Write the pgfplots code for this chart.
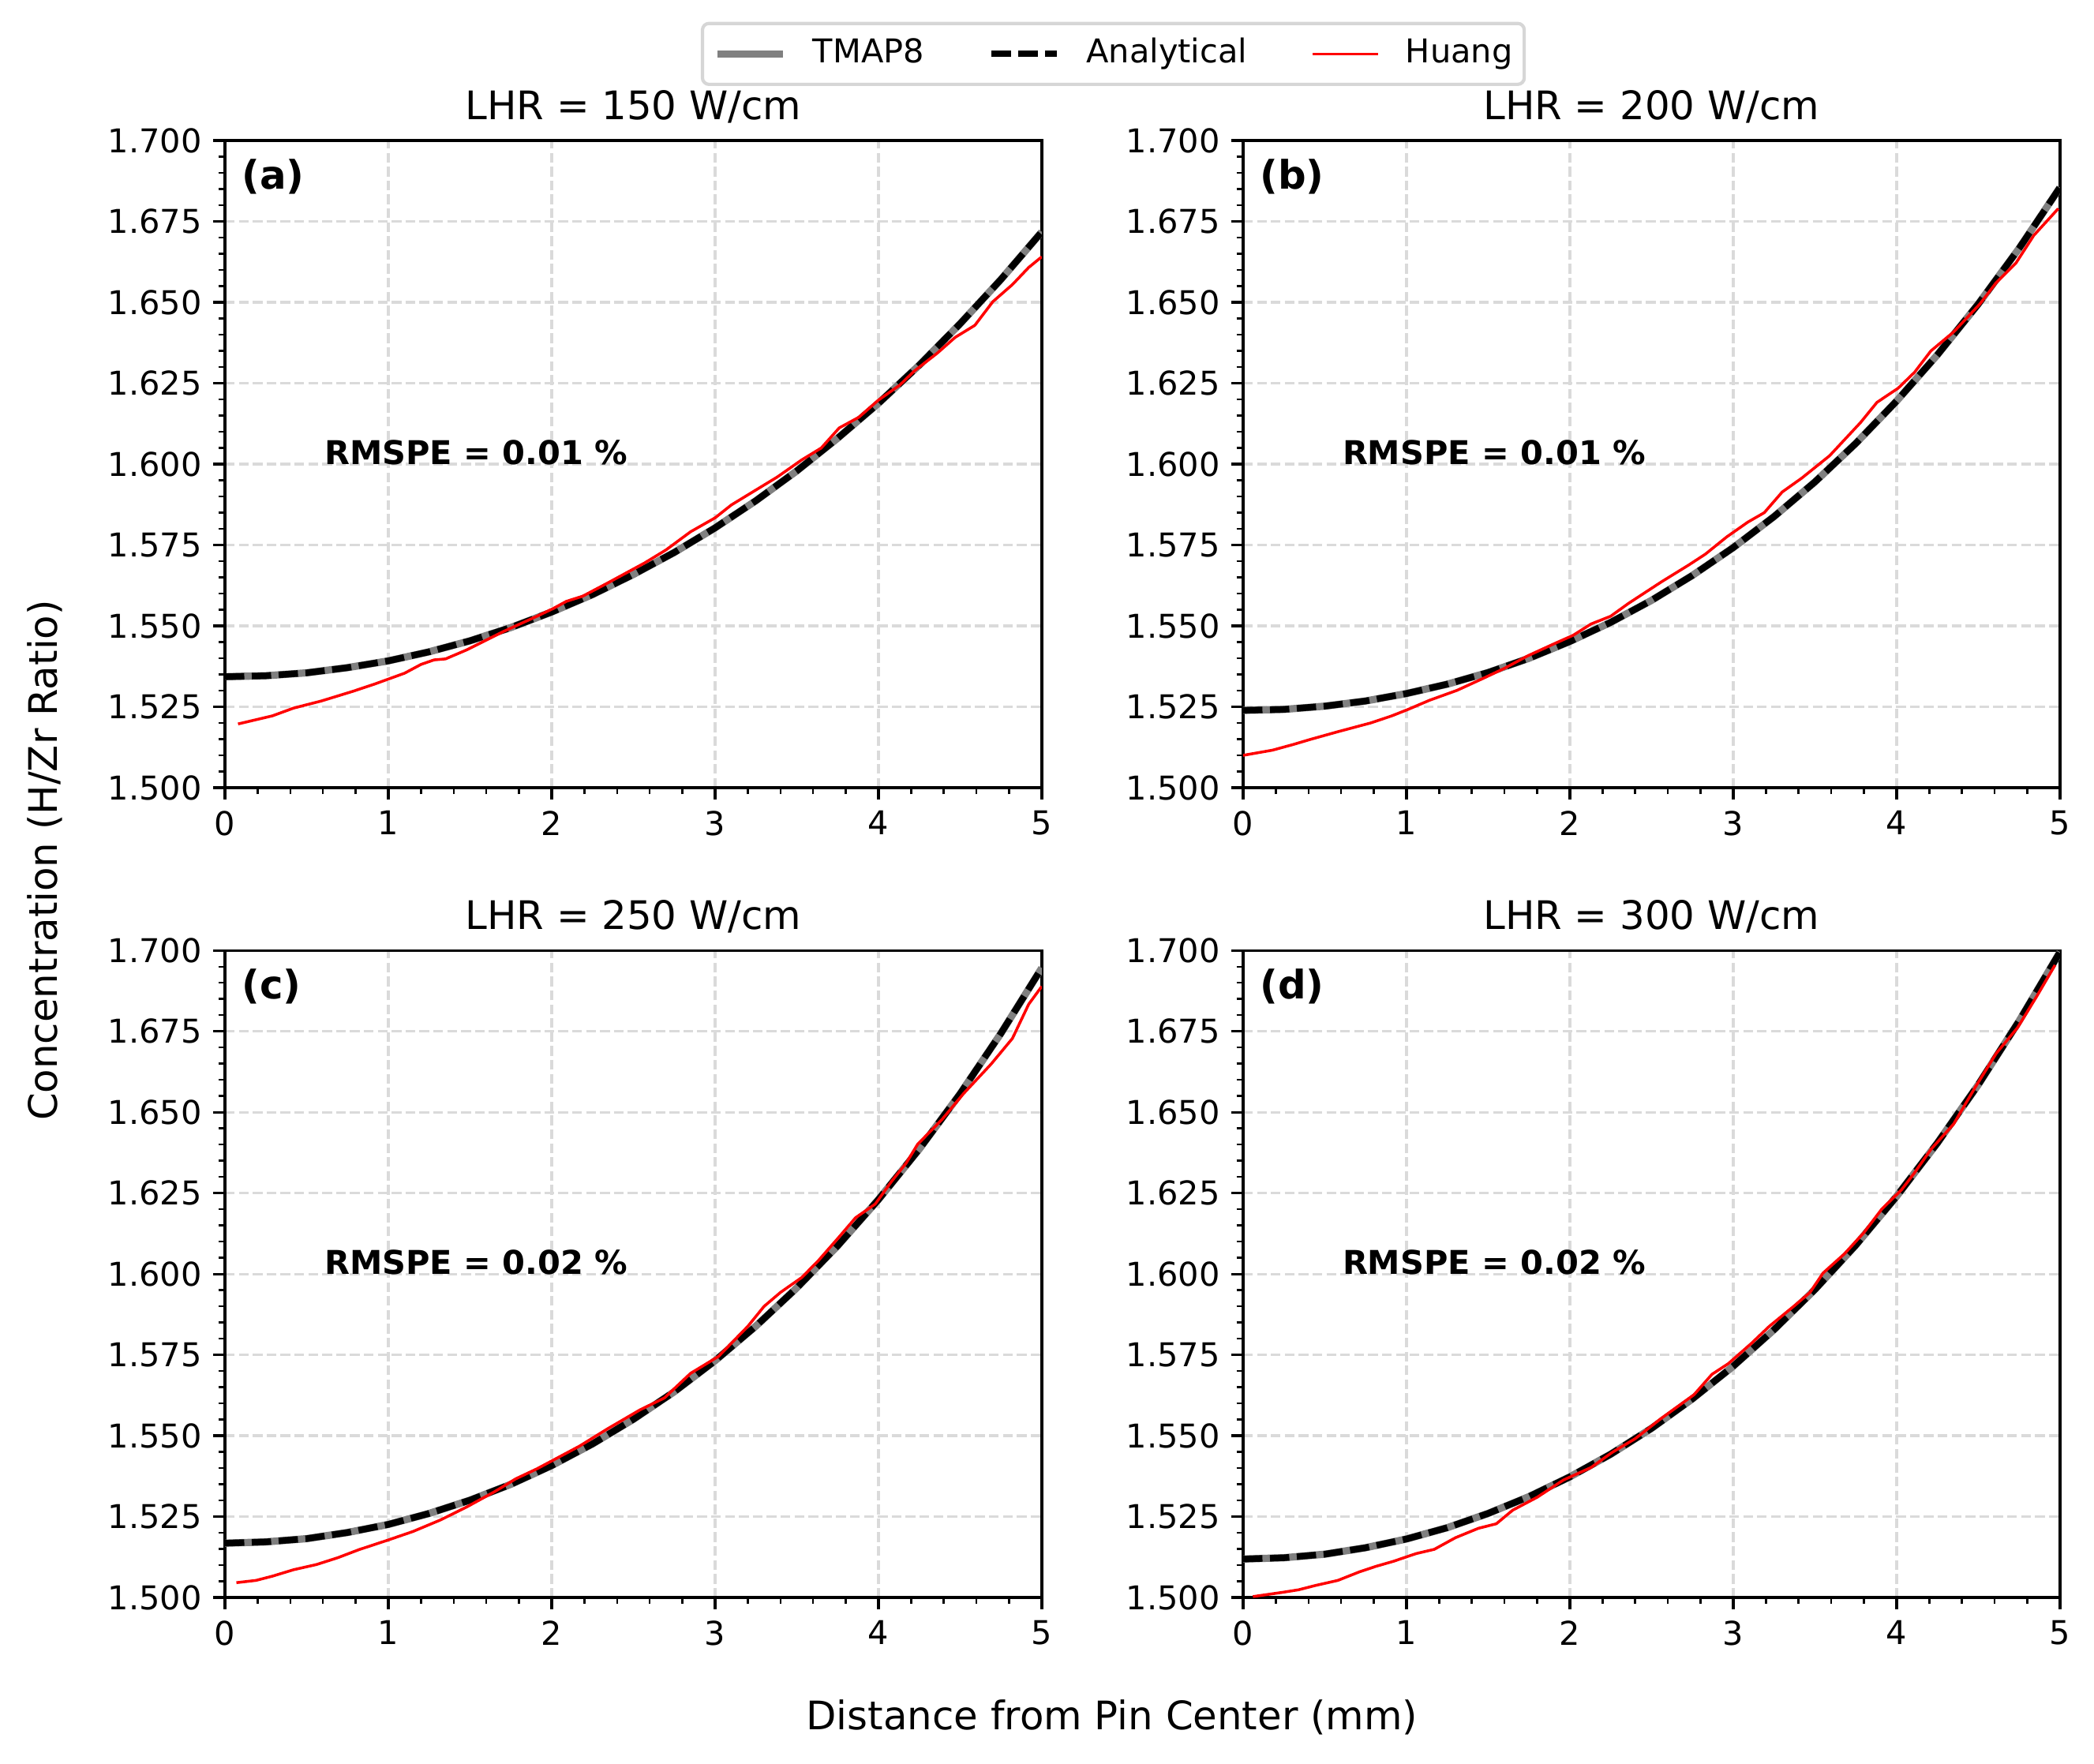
\documentclass[border=0pt]{standalone}
\usepackage{fontspec}
\setmainfont{DejaVu Sans}
\usepackage{pgfplots}
\usepackage{pgfplotstable}
\pgfplotsset{compat=1.18}

\definecolor{gridgray}{RGB}{218,218,218}
\definecolor{legendedge}{RGB}{214,214,214}

% ---------------- analytical / TMAP8 profiles ----------------
\pgfplotstableread{
x y
0.00 1.5343
0.25 1.5346
0.50 1.5355
0.75 1.5371
1.00 1.5392
1.25 1.5420
1.50 1.5454
1.75 1.5495
2.00 1.5543
2.25 1.5597
2.50 1.5659
2.75 1.5727
3.00 1.5803
3.25 1.5887
3.50 1.5979
3.75 1.6080
4.00 1.6188
4.25 1.6306
4.50 1.6434
4.75 1.6571
5.00 1.6718
}\anaA

\pgfplotstableread{
x y
0.00 1.5239
0.25 1.5242
0.50 1.5252
0.75 1.5268
1.00 1.5291
1.25 1.5320
1.50 1.5356
1.75 1.5400
2.00 1.5452
2.25 1.5511
2.50 1.5579
2.75 1.5656
3.00 1.5742
3.25 1.5838
3.50 1.5945
3.75 1.6064
4.00 1.6195
4.25 1.6338
4.50 1.6495
4.75 1.6667
5.00 1.6855
}\anaB

\pgfplotstableread{
x y
0.00 1.5168
0.25 1.5172
0.50 1.5182
0.75 1.5201
1.00 1.5226
1.25 1.5260
1.50 1.5301
1.75 1.5350
2.00 1.5408
2.25 1.5475
2.50 1.5551
2.75 1.5636
3.00 1.5732
3.25 1.5839
3.50 1.5957
3.75 1.6087
4.00 1.6230
4.25 1.6386
4.50 1.6557
4.75 1.6744
5.00 1.6946
}\anaC

\pgfplotstableread{
x y
0.00 1.5119
0.25 1.5123
0.50 1.5134
0.75 1.5154
1.00 1.5181
1.25 1.5216
1.50 1.5260
1.75 1.5312
2.00 1.5373
2.25 1.5443
2.50 1.5523
2.75 1.5614
3.00 1.5715
3.25 1.5828
3.50 1.5952
3.75 1.6089
4.00 1.6240
4.25 1.6405
4.50 1.6585
4.75 1.6782
5.00 1.6995
}\anaD

% ---------------- Huang reference data ----------------
\pgfplotstableread{
x y
0.08 1.5197
0.29 1.5222
0.42 1.5246
0.59 1.5268
0.79 1.5299
0.92 1.5321
1.10 1.5354
1.20 1.5381
1.28 1.5395
1.35 1.5398
1.48 1.5426
1.71 1.5484
1.91 1.5530
2.01 1.5554
2.09 1.5576
2.19 1.5592
2.34 1.5632
2.57 1.5695
2.70 1.5735
2.85 1.5791
3.00 1.5834
3.10 1.5874
3.23 1.5914
3.38 1.5960
3.53 1.6013
3.65 1.6050
3.76 1.6112
3.88 1.6145
4.00 1.6198
4.13 1.6244
4.22 1.6288
4.36 1.6343
4.47 1.6392
4.59 1.6429
4.70 1.6502
4.82 1.6555
4.92 1.6608
5.00 1.6641
}\huangA

\pgfplotstableread{
x y
0.00 1.5100
0.18 1.5116
0.31 1.5134
0.41 1.5149
0.58 1.5173
0.78 1.5200
0.91 1.5222
1.01 1.5242
1.14 1.5270
1.31 1.5301
1.47 1.5338
1.60 1.5369
1.74 1.5407
1.90 1.5444
2.02 1.5471
2.13 1.5506
2.25 1.5530
2.36 1.5570
2.56 1.5636
2.73 1.5689
2.83 1.5722
2.96 1.5775
3.09 1.5821
3.19 1.5850
3.30 1.5914
3.42 1.5957
3.59 1.6026
3.78 1.6129
3.88 1.6191
4.01 1.6235
4.11 1.6284
4.21 1.6350
4.35 1.6409
4.51 1.6495
4.61 1.6561
4.73 1.6621
4.84 1.6707
4.99 1.6790
}\huangB

\pgfplotstableread{
x y
0.07 1.5046
0.19 1.5053
0.29 1.5066
0.42 1.5086
0.56 1.5102
0.69 1.5123
0.82 1.5148
1.00 1.5178
1.15 1.5204
1.32 1.5240
1.48 1.5280
1.65 1.5327
1.78 1.5367
1.91 1.5398
2.04 1.5433
2.17 1.5468
2.34 1.5521
2.54 1.5580
2.69 1.5617
2.85 1.5693
3.02 1.5745
3.20 1.5838
3.30 1.5900
3.40 1.5943
3.53 1.5989
3.63 1.6040
3.76 1.6115
3.86 1.6174
3.98 1.6216
4.08 1.6286
4.17 1.6343
4.24 1.6401
4.39 1.6478
4.52 1.6557
4.69 1.6649
4.82 1.6728
4.92 1.6834
5.00 1.6889
}\huangC

\pgfplotstableread{
x y
0.06 1.5003
0.24 1.5016
0.34 1.5024
0.44 1.5037
0.58 1.5053
0.71 1.5079
0.81 1.5096
0.92 1.5112
1.06 1.5136
1.17 1.5149
1.30 1.5185
1.44 1.5214
1.55 1.5228
1.65 1.5270
1.80 1.5310
1.96 1.5363
2.13 1.5402
2.26 1.5449
2.40 1.5491
2.56 1.5554
2.76 1.5627
2.87 1.5690
2.97 1.5723
3.11 1.5785
3.22 1.5838
3.37 1.5900
3.47 1.5943
3.55 1.6003
3.68 1.6062
3.80 1.6128
3.91 1.6201
4.03 1.6260
4.11 1.6313
4.21 1.6385
4.35 1.6464
4.48 1.6576
4.61 1.6682
4.74 1.6761
4.86 1.6860
4.97 1.6955
}\huangD

\pgfplotsset{
  panel/.style={
    scale only axis,
    width=249.3pt, height=197.5pt,
    anchor=south west,
    xmin=0, xmax=5, ymin=1.5, ymax=1.7,
    xtick={0,1,2,3,4,5},
    ytick={1.500,1.525,1.550,1.575,1.600,1.625,1.650,1.675,1.700},
    minor x tick num=4, minor y tick num=4,
    tick pos=left, tick align=outside,
    major tick length=3.5pt, minor tick length=2pt,
    tick style={black, line width=0.8pt},
    minor tick style={black, line width=0.6pt},
    axis line style={black, line width=0.8pt},
    grid=major,
    major grid style={gridgray, line width=0.8pt, dash pattern=on 2.96pt off 1.28pt},
    ticklabel style={font=\fontsize{10}{12}\selectfont},
    /pgf/number format/assume math mode=true,
    scaled y ticks=false,
    yticklabel style={/pgf/number format/.cd, fixed, fixed zerofill, precision=3},
    title style={font=\fontsize{12}{14}\selectfont, at={(0.5,1)}, anchor=base, yshift=0.5pt},
  },
  tmap/.style={gray, line width=2.2bp, line join=round},
  ana/.style={black, line width=2bp, dash pattern=on 5.9pt off 2.3pt},
  huang/.style={red, line width=0.85bp, line join=round},
}

\newcommand{\paneltag}[2]{%
  \node[anchor=north west, inner sep=0pt, font=\bfseries\fontsize{12}{14}\selectfont]
    at (rel axis cs:0.020,0.972) {#1};
  \node[anchor=base west, inner sep=0pt, font=\bfseries\fontsize{10}{12}\selectfont]
    at (rel axis cs:0.121,0.5) {#2};
}

\begin{document}
\begin{tikzpicture}
\useasboundingbox (0,0) rectangle (639.1pt,538.4pt);

% (a) 150 W/cm
\begin{axis}[panel, at={(68.66pt,297.98pt)},
  title={LHR = 150 W/cm},
  legend columns=3,
  legend image code/.code={\draw[#1] (0pt,0pt) -- (20pt,0pt);},
  legend cell align=left,
  legend style={at={(1.0876,1.134)}, anchor=center,
    draw=legendedge, line width=1bp, rounded corners=2pt, fill=white,
    font=\fontsize{10}{12}\selectfont,
    inner xsep=3.5pt, inner ysep=4.5pt,
    nodes={inner sep=0pt, text height=7.4pt, text depth=2.2pt},
    /tikz/every odd column/.append style={column sep=8pt},
    /tikz/every even column/.append style={column sep=19.5pt}},
]
\addplot[tmap] table {\anaA};
\addlegendentry{TMAP8}
\addplot[ana] table {\anaA};
\addlegendentry{Analytical}
\addplot[huang] table {\huangA};
\addlegendentry{Huang}
\paneltag{(a)}{RMSPE = 0.01 \%}
\end{axis}

% (b) 200 W/cm
\begin{axis}[panel, at={(379.4pt,297.98pt)}, title={LHR = 200 W/cm}]
\addplot[tmap] table {\anaB};
\addplot[ana] table {\anaB};
\addplot[huang] table {\huangB};
\paneltag{(b)}{RMSPE = 0.01 \%}
\end{axis}

% (c) 250 W/cm
\begin{axis}[panel, at={(68.66pt,50.8pt)}, title={LHR = 250 W/cm}]
\addplot[tmap] table {\anaC};
\addplot[ana] table {\anaC};
\addplot[huang] table {\huangC};
\paneltag{(c)}{RMSPE = 0.02 \%}
\end{axis}

% (d) 300 W/cm
\begin{axis}[panel, at={(379.4pt,50.8pt)}, title={LHR = 300 W/cm}]
\addplot[tmap] table {\anaD};
\addplot[ana] table {\anaD};
\addplot[huang] table {\huangD};
\paneltag{(d)}{RMSPE = 0.02 \%}
\end{axis}

% shared axis titles
\node[anchor=base, inner sep=0pt, font=\fontsize{12}{14}\selectfont]
  at (339.4pt,10.5pt) {Distance from Pin Center (mm)};
\node[anchor=base, rotate=90, inner sep=0pt, font=\fontsize{12}{14}\selectfont]
  at (17.5pt,275.8pt) {Concentration (H/Zr Ratio)};
\end{tikzpicture}
\end{document}
